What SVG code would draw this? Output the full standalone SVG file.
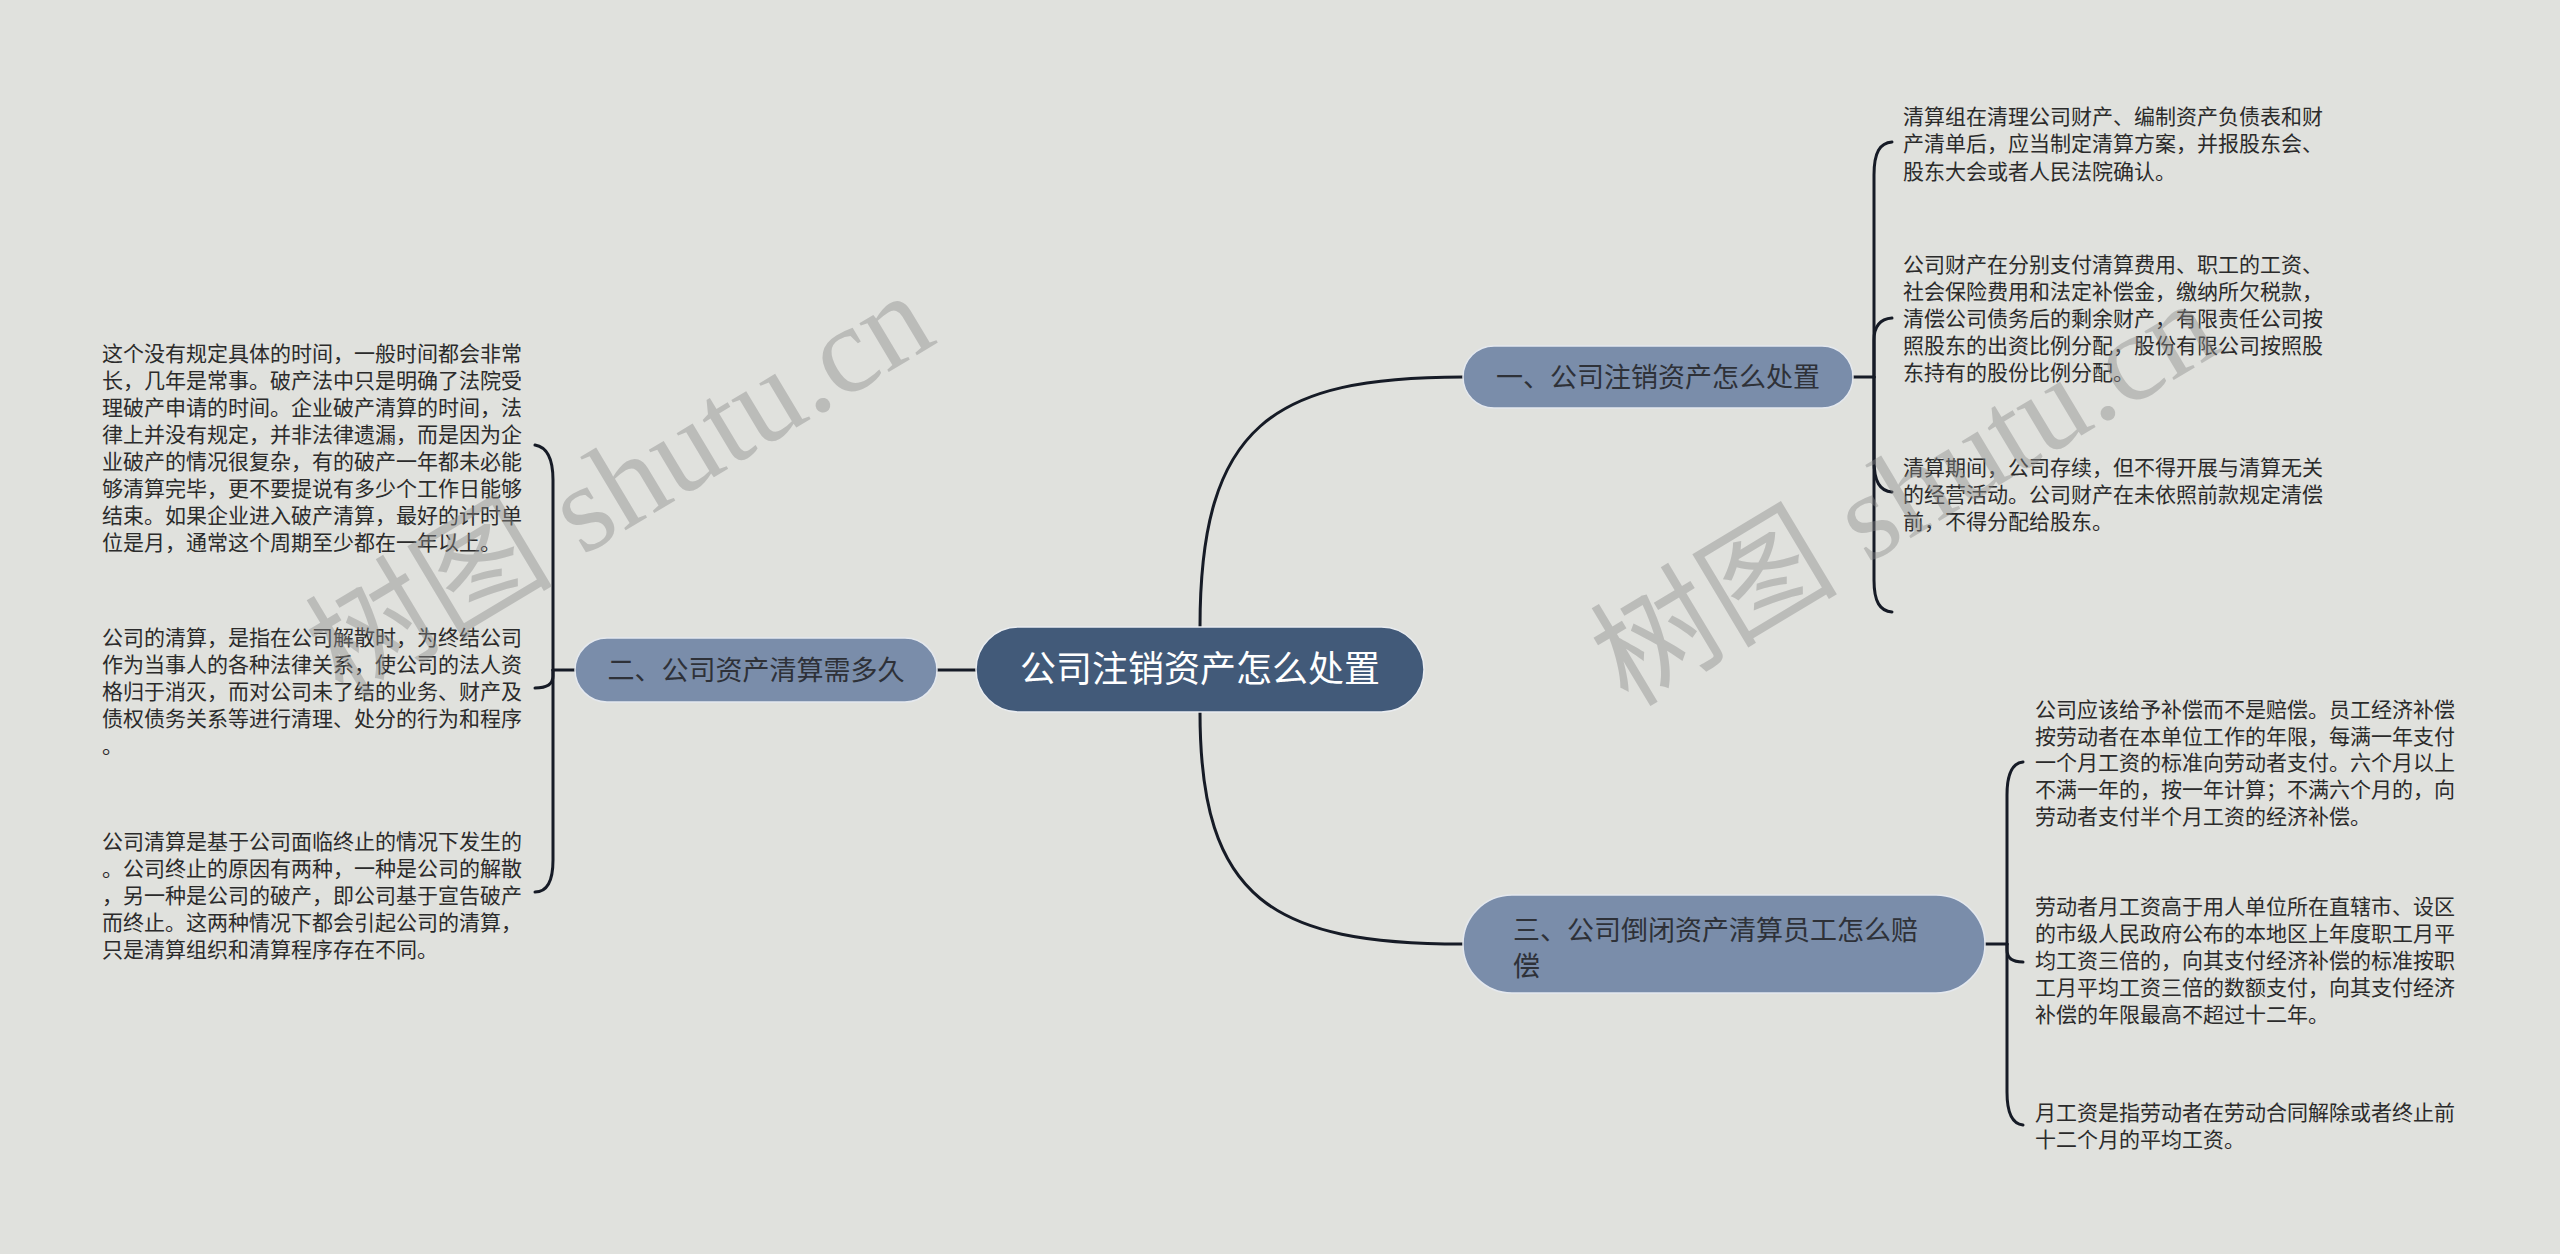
<svg xmlns="http://www.w3.org/2000/svg" width="2560" height="1254" viewBox="0 0 2560 1254">
<style>
.bg{fill:#e0e1dd}
.conn{fill:none;stroke:#161b26;stroke-width:3;stroke-linecap:round}
.root{fill:#425a79;stroke:#e9ecf0;stroke-width:1.5}
.branch{fill:#7a8daa;stroke:#e4e8ee;stroke-width:1.5}
.rt{font-family:"Noto Sans CJK SC","Noto Sans",sans-serif;font-size:36px;fill:#ffffff}
.bt{font-family:"Noto Sans CJK SC","Noto Sans",sans-serif;font-size:27px;fill:#2e3138}
.lt{font-family:"Noto Sans CJK SC","Noto Sans",sans-serif;font-size:21px;fill:#2b2b2b}
.wm{font-family:"Liberation Serif","Noto Sans CJK SC",serif;font-size:124px;fill:#8a8a8a;opacity:0.42}
</style>
<rect class="bg" x="0" y="0" width="2560" height="1254"/>

<g id="connectors">
<path class="conn" d="M937,670 H976"/>
<path class="conn" d="M1200,627 C1200,425 1273,377 1463,377"/>
<path class="conn" d="M1200,712 C1200,900 1273,944 1463,944"/>
<path class="conn" d="M575,670 H553"/>
<path class="conn" d="M553,670 V480 C553,458 547,447 535,445"/>
<path class="conn" d="M553,670 V676 C553,684 547,688 535,688"/>
<path class="conn" d="M553,670 V860 C553,882 547,892 535,892"/>
<path class="conn" d="M1853,377 H1874"/>
<path class="conn" d="M1874,377 V175 C1874,152 1880,143 1892,142"/>
<path class="conn" d="M1874,377 V340 C1874,327 1880,319 1892,318"/>
<path class="conn" d="M1874,377 V460 C1874,482 1880,491 1892,492"/>
<path class="conn" d="M1874,377 V580 C1874,602 1880,611 1892,612"/>
<path class="conn" d="M1985,944 H2007"/>
<path class="conn" d="M2007,944 V795 C2007,772 2013,763 2023,762"/>
<path class="conn" d="M2007,944 V950 C2007,958 2013,962 2023,962"/>
<path class="conn" d="M2007,944 V1092 C2007,1115 2013,1124 2023,1125"/>
</g>

<g id="root">
<rect class="root" x="976" y="627" width="448" height="85" rx="42.5"/>
<text class="rt" x="1200" y="682" text-anchor="middle">公司注销资产怎么处置</text>
</g>

<g id="branch2">
<rect class="branch" x="575" y="638" width="362" height="64" rx="32"/>
<text class="bt" x="756" y="680" text-anchor="middle">二、公司资产清算需多久</text>
</g>

<g id="branch1">
<rect class="branch" x="1463" y="346" width="390" height="62" rx="31"/>
<text class="bt" x="1658" y="387" text-anchor="middle">一、公司注销资产怎么处置</text>
</g>

<g id="branch3">
<rect class="branch" x="1463" y="895" width="522" height="98" rx="49"/>
<text class="bt" x="1513" y="940">三、公司倒闭资产清算员工怎么赔</text>
<text class="bt" x="1513" y="976">偿</text>
</g>

<g id="leaf2-1">
<text class="lt" x="102" y="361">这个没有规定具体的时间，一般时间都会非常</text>
<text class="lt" x="102" y="388">长，几年是常事。破产法中只是明确了法院受</text>
<text class="lt" x="102" y="415">理破产申请的时间。企业破产清算的时间，法</text>
<text class="lt" x="102" y="442">律上并没有规定，并非法律遗漏，而是因为企</text>
<text class="lt" x="102" y="469">业破产的情况很复杂，有的破产一年都未必能</text>
<text class="lt" x="102" y="496">够清算完毕，更不要提说有多少个工作日能够</text>
<text class="lt" x="102" y="523">结束。如果企业进入破产清算，最好的计时单</text>
<text class="lt" x="102" y="550">位是月，通常这个周期至少都在一年以上。</text>
</g>

<g id="leaf2-2">
<text class="lt" x="102" y="645">公司的清算，是指在公司解散时，为终结公司</text>
<text class="lt" x="102" y="672">作为当事人的各种法律关系，使公司的法人资</text>
<text class="lt" x="102" y="699">格归于消灭，而对公司未了结的业务、财产及</text>
<text class="lt" x="102" y="726">债权债务关系等进行清理、处分的行为和程序</text>
<text class="lt" x="102" y="753">。</text>
</g>

<g id="leaf2-3">
<text class="lt" x="102" y="849">公司清算是基于公司面临终止的情况下发生的</text>
<text class="lt" x="102" y="876">。公司终止的原因有两种，一种是公司的解散</text>
<text class="lt" x="102" y="903">，另一种是公司的破产，即公司基于宣告破产</text>
<text class="lt" x="102" y="930">而终止。这两种情况下都会引起公司的清算，</text>
<text class="lt" x="102" y="957">只是清算组织和清算程序存在不同。</text>
</g>

<g id="leaf1-1">
<text class="lt" x="1903" y="124">清算组在清理公司财产、编制资产负债表和财</text>
<text class="lt" x="1903" y="151">产清单后，应当制定清算方案，并报股东会、</text>
<text class="lt" x="1903" y="179">股东大会或者人民法院确认。</text>
</g>

<g id="leaf1-2">
<text class="lt" x="1903" y="272">公司财产在分别支付清算费用、职工的工资、</text>
<text class="lt" x="1903" y="299">社会保险费用和法定补偿金，缴纳所欠税款，</text>
<text class="lt" x="1903" y="326">清偿公司债务后的剩余财产，有限责任公司按</text>
<text class="lt" x="1903" y="353">照股东的出资比例分配，股份有限公司按照股</text>
<text class="lt" x="1903" y="380">东持有的股份比例分配。</text>
</g>

<g id="leaf1-3">
<text class="lt" x="1903" y="475">清算期间，公司存续，但不得开展与清算无关</text>
<text class="lt" x="1903" y="502">的经营活动。公司财产在未依照前款规定清偿</text>
<text class="lt" x="1903" y="529">前，不得分配给股东。</text>
</g>

<g id="leaf3-1">
<text class="lt" x="2035" y="717">公司应该给予补偿而不是赔偿。员工经济补偿</text>
<text class="lt" x="2035" y="744">按劳动者在本单位工作的年限，每满一年支付</text>
<text class="lt" x="2035" y="770">一个月工资的标准向劳动者支付。六个月以上</text>
<text class="lt" x="2035" y="797">不满一年的，按一年计算；不满六个月的，向</text>
<text class="lt" x="2035" y="824">劳动者支付半个月工资的经济补偿。</text>
</g>

<g id="leaf3-2">
<text class="lt" x="2035" y="914">劳动者月工资高于用人单位所在直辖市、设区</text>
<text class="lt" x="2035" y="941">的市级人民政府公布的本地区上年度职工月平</text>
<text class="lt" x="2035" y="968">均工资三倍的，向其支付经济补偿的标准按职</text>
<text class="lt" x="2035" y="995">工月平均工资三倍的数额支付，向其支付经济</text>
<text class="lt" x="2035" y="1022">补偿的年限最高不超过十二年。</text>
</g>

<g id="leaf3-3">
<text class="lt" x="2035" y="1120">月工资是指劳动者在劳动合同解除或者终止前</text>
<text class="lt" x="2035" y="1147">十二个月的平均工资。</text>
</g>

<g id="watermarks">
<text class="wm" x="343" y="700" transform="rotate(-31 343 700)">树图 shutu.cn</text>
<text class="wm" x="1628" y="708" transform="rotate(-31 1628 708)">树图 shutu.cn</text>
</g>
</svg>
